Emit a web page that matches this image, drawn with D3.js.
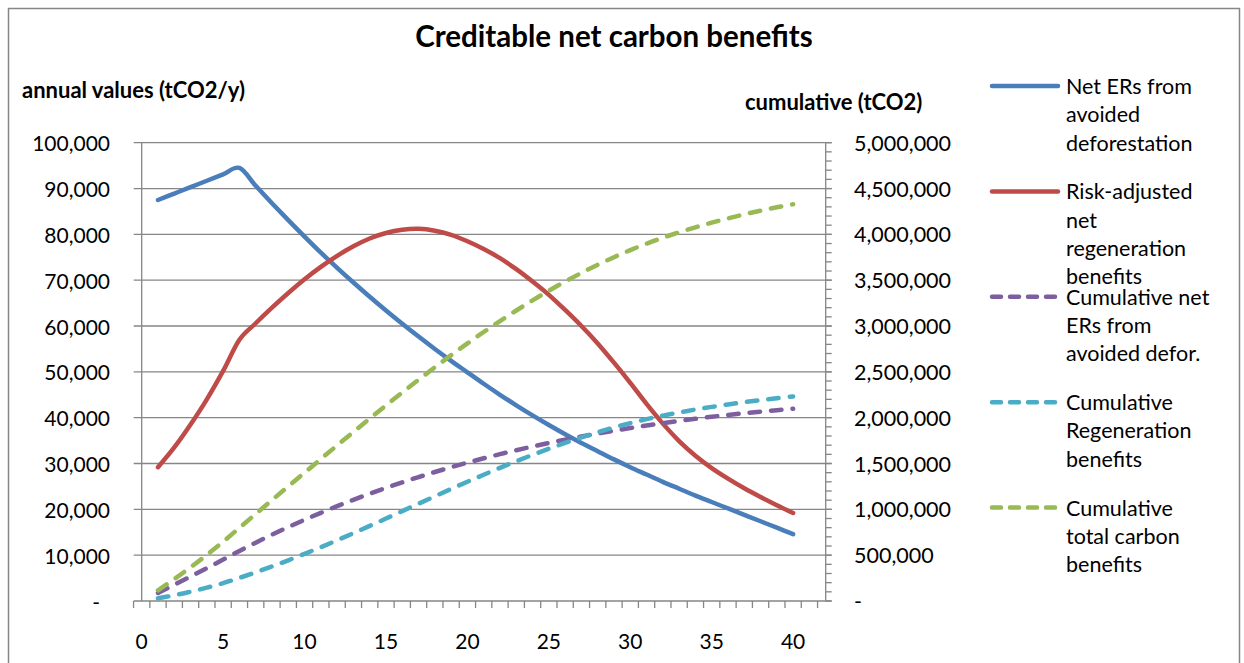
<!DOCTYPE html>
<html>
<head>
<meta charset="utf-8">
<script src="https://cdn.jsdelivr.net/npm/d3@7"></script>
<style>
    body { margin: 0; background: #fff; }
    text { font-family: Lato, "Open Sans", sans-serif; fill: #000; }
</style>
</head>
<body>
<script>
//chart values
var years = [1,2,3,4,5,6,7,8,9,10,11,12,13,14,15,16,17,18,19,20,
             21,22,23,24,25,26,27,28,29,30,31,32,33,34,35,36,37,38,39,40];

//annual values (tCO2/y), left axis
var netERs = [87500,88900,90300,91700,93100,94500,90600,86800,83100,79500,
              76000,72700,69500,66400,63400,60500,57700,55000,52400,49900,
              47400,45000,42700,40500,38400,36400,34500,32700,30900,29200,
              27600,26000,24500,23000,21600,20200,18800,17400,16000,14600];
var regenBenefits = [29200,33500,38500,44000,50200,57000,60600,64000,67200,70200,
                     72900,75300,77400,79100,80300,81000,81200,80800,79900,78500,
                     76800,74800,72400,69700,66800,63500,60000,56200,52000,47600,
                     43000,38700,34900,31700,29000,26700,24600,22700,20900,19200];

//cumulative values (tCO2), right axis
var cumNetERs = [87500,176400,266700,358400,451500,546000,636600,723400,806500,886000,
                 962000,1034700,1104200,1170600,1234000,1294500,1352200,1407200,1459600,1509500,
                 1556900,1601900,1644600,1685100,1723500,1759900,1794400,1827100,1858000,1887200,
                 1914800,1940800,1965300,1988300,2009900,2030100,2048900,2066300,2082300,2096900];
var cumRegen = [29200,62700,101200,145200,195400,252400,313000,377000,444200,514400,
                587300,662600,740000,819100,899400,980400,1061600,1142400,1222300,1300800,
                1377600,1452400,1524800,1594500,1661300,1724800,1784800,1841000,1893000,1940600,
                1983600,2022300,2057200,2088900,2117900,2144600,2169200,2191900,2212800,2232000];
var cumTotal = [116700,239100,367900,503600,646900,798400,949600,1100400,1250700,1400400,
                1549300,1697300,1844200,1989700,2133400,2274900,2413800,2549600,2681900,2810300,
                2934500,3054300,3169400,3279600,3384800,3484700,3579200,3668100,3751000,3827800,
                3898400,3963100,4022500,4077200,4127800,4174700,4218100,4258200,4295100,4328900];

//axis tick values
var xTickLabels = [0,5,10,15,20,25,30,35,40];
var leftTicks = [0,10000,20000,30000,40000,50000,60000,70000,80000,90000,100000];
var rightTicks = [0,500000,1000000,1500000,2000000,2500000,3000000,3500000,4000000,4500000,5000000];

//legend entries
var seriesNames = [
    ["Net ERs from", "avoided", "deforestation"],
    ["Risk-adjusted", "net", "regeneration", "benefits"],
    ["Cumulative net", "ERs from", "avoided defor."],
    ["Cumulative", "Regeneration", "benefits"],
    ["Cumulative", "total carbon", "benefits"]
];
var seriesColors = ["#4A7EBB", "#BE4B48", "#7D5FA0", "#4BACC6", "#98B954"];

(function(){
    var width = 1244,
        height = 663;

    var svg = d3.select("body")
        .append("svg")
        .attr("width", width)
        .attr("height", height);

    //outer chart frame
    svg.append("rect")
        .attr("x", 8.5).attr("y", 8.5)
        .attr("width", 1231).attr("height", 720)
        .attr("fill", "none")
        .attr("stroke", "#868686")
        .attr("stroke-width", 1.5);

    //plot area bounds
    var left = 141.7, right = 825.7, top = 142.7, bottom = 601;

    var x = d3.scaleLinear().domain([0, 42]).range([left, right]);
    var yL = d3.scaleLinear().domain([0, 100000]).range([bottom, top]);
    var yR = d3.scaleLinear().domain([0, 5000000]).range([bottom, top]);

    var grey = "#868686";
    var fmt = d3.format(",");

    //horizontal gridlines incl. outside major ticks
    svg.selectAll(".grid")
        .data(leftTicks)
        .enter()
        .append("line")
        .attr("class", "grid")
        .attr("x1", left - 8).attr("x2", right + 6)
        .attr("y1", function(d){ return yL(d); })
        .attr("y2", function(d){ return yL(d); })
        .attr("stroke", grey)
        .attr("stroke-width", 1.3);

    //left and right axis lines
    svg.append("line")
        .attr("x1", left).attr("x2", left)
        .attr("y1", top).attr("y2", bottom)
        .attr("stroke", grey).attr("stroke-width", 1.3);
    svg.append("line")
        .attr("x1", right).attr("x2", right)
        .attr("y1", top).attr("y2", bottom)
        .attr("stroke", grey).attr("stroke-width", 1.3);

    //right axis minor ticks
    svg.selectAll(".minor")
        .data(d3.range(0, 5000001, 100000))
        .enter()
        .append("line")
        .attr("x1", right).attr("x2", right + 6)
        .attr("y1", function(d){ return yR(d); })
        .attr("y2", function(d){ return yR(d); })
        .attr("stroke", grey).attr("stroke-width", 1.3);

    //bottom axis ticks between categories
    svg.selectAll(".xtick")
        .data(d3.range(-0.5, 42, 1))
        .enter()
        .append("line")
        .attr("x1", function(d){ return x(d); })
        .attr("x2", function(d){ return x(d); })
        .attr("y1", bottom).attr("y2", bottom + 7)
        .attr("stroke", grey).attr("stroke-width", 1.3);

    //tick labels
    svg.selectAll(".xlab")
        .data(xTickLabels)
        .enter()
        .append("text")
        .attr("x", function(d){ return x(d); })
        .attr("y", 640)
        .attr("text-anchor", "middle")
        .attr("dominant-baseline", "central")
        .style("font-size", "21px")
        .text(function(d){ return d; });

    svg.selectAll(".ylab")
        .data(leftTicks)
        .enter()
        .append("text")
        .attr("x", function(d){ return d === 0 ? 100 : 110; })
        .attr("y", function(d){ return yL(d); })
        .attr("text-anchor", "end")
        .attr("dominant-baseline", "central")
        .style("font-size", "21px")
        .text(function(d){ return d === 0 ? "-" : fmt(d); });

    svg.selectAll(".y2lab")
        .data(rightTicks)
        .enter()
        .append("text")
        .attr("x", 854)
        .attr("y", function(d){ return yR(d); })
        .attr("dominant-baseline", "central")
        .style("font-size", "21.5px")
        .text(function(d){ return d === 0 ? "-" : fmt(d); });

    //titles
    svg.append("text")
        .attr("x", 614).attr("y", 35)
        .attr("text-anchor", "middle")
        .attr("dominant-baseline", "central")
        .style("font-size", "29.5px").style("font-weight", "bold")
        .text("Creditable net carbon benefits");
    svg.append("text")
        .attr("x", 22).attr("y", 89)
        .attr("dominant-baseline", "central")
        .style("font-size", "22px").style("font-weight", "bold")
        .text("annual values (tCO2/y)");
    svg.append("text")
        .attr("x", 745).attr("y", 101)
        .attr("dominant-baseline", "central")
        .style("font-size", "22px").style("font-weight", "bold")
        .text("cumulative (tCO2)");

    //series lines
    var series = [
        {vals: netERs, y: yL, dash: null},
        {vals: regenBenefits, y: yL, dash: null},
        {vals: cumNetERs, y: yR, dash: "10.5,11"},
        {vals: cumRegen, y: yR, dash: "10.5,11"},
        {vals: cumTotal, y: yR, dash: "10.5,11"}
    ];

    series.forEach(function(s, i){
        var line = d3.line()
            .x(function(d, j){ return x(years[j]); })
            .y(function(d){ return s.y(d); })
            .curve(d3.curveCatmullRom.alpha(0));
        svg.append("path")
            .datum(s.vals)
            .attr("d", line)
            .attr("fill", "none")
            .attr("stroke", seriesColors[i])
            .attr("stroke-width", 4.5)
            .attr("stroke-linecap", "round")
            .attr("stroke-linejoin", "round")
            .attr("stroke-dasharray", s.dash);
    });

    //legend
    var legend = svg.selectAll(".legend")
        .data(seriesNames)
        .enter()
        .append("g")
        .attr("transform", function(d, i){ return "translate(0," + (86 + i * 105.4) + ")"; });

    legend.append("line")
        .attr("x1", 992).attr("x2", 1058)
        .attr("y1", 0).attr("y2", 0)
        .attr("stroke", function(d, i){ return seriesColors[i]; })
        .attr("stroke-width", 4.5)
        .attr("stroke-linecap", "round")
        .attr("stroke-dasharray", function(d, i){ return i > 1 ? "9,9" : null; });

    legend.each(function(lines){
        d3.select(this).selectAll("text")
            .data(lines)
            .enter()
            .append("text")
            .attr("x", 1066)
            .attr("y", function(d, k){ return k * 28.3; })
            .attr("dominant-baseline", "central")
            .style("font-size", "21.5px")
            .text(function(d){ return d; });
    });
})();
</script>
</body>
</html>
